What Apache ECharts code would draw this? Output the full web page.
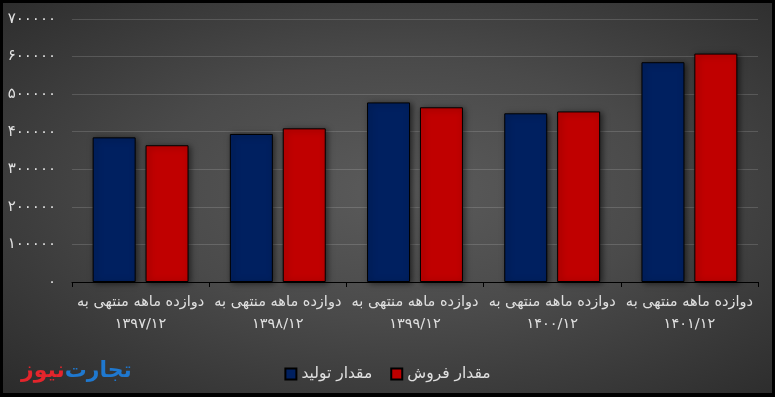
<!DOCTYPE html>
<html>
<head>
<meta charset="utf-8">
<script src="https://cdn.jsdelivr.net/npm/echarts@6/dist/echarts.min.js"></script>
<style>
  html, body { margin: 0; padding: 0; background: #000; }
  #chart {
    width: 775px; height: 397px; box-sizing: border-box;
    border: 3px solid #000; border-bottom-width: 4px;
    background: radial-gradient(ellipse at 52% 48%, #5b5b5b 0%, #4a4a4a 45%, #2b2b2b 100%);
  }
</style>
</head>
<body>
<div id="chart"></div>
<script>
const categories = ['۱۳۹۷/۱۲', '۱۳۹۸/۱۲', '۱۳۹۹/۱۲', '۱۴۰۰/۱۲', '۱۴۰۱/۱۲'];
const periodPrefix = 'دوازده ماهه منتهی به';
const production = [385000, 394000, 478000, 449000, 585000];
const sales = [364000, 409000, 465000, 454000, 608000];
const yTickLabels = ['۰', '۱۰۰۰۰۰', '۲۰۰۰۰۰', '۳۰۰۰۰۰', '۴۰۰۰۰۰', '۵۰۰۰۰۰', '۶۰۰۰۰۰', '۷۰۰۰۰۰'];
const seriesNames = ['مقدار تولید', 'مقدار فروش'];

const font = 'DejaVu Sans';
const chart = echarts.init(document.getElementById('chart'));

// سایه ستون ها
const barShadow = {
  borderColor: '#000',
  borderWidth: 1,
  shadowBlur: 6,
  shadowColor: 'rgba(0,0,0,0.55)',
  shadowOffsetX: 2,
  shadowOffsetY: 1
};

chart.setOption({
  backgroundColor: 'transparent',
  textStyle: { fontFamily: font },
  animation: false,
  grid: { left: 69, right: 14, top: 16, bottom: 111 },
  legend: {
    data: seriesNames,
    top: 358,
    left: 'center',
    icon: 'rect',
    itemWidth: 11,
    itemHeight: 11,
    itemGap: 18,
    textStyle: { color: '#e0e0e0', fontSize: 15.5, fontFamily: font }
  },
  xAxis: {
    type: 'category',
    data: categories,
    axisLine: { lineStyle: { color: '#000', width: 1 } },
    axisTick: { show: true, length: 5, lineStyle: { color: '#000' } },
    axisLabel: {
      color: '#e0e0e0',
      fontSize: 14.5,
      lineHeight: 22,
      margin: 9,
      interval: 0,
      formatter: v => periodPrefix + '\n' + v
    }
  },
  yAxis: {
    type: 'value',
    min: 0,
    max: 700000,
    interval: 100000,
    axisLine: { show: false },
    axisTick: { show: false },
    splitLine: { lineStyle: { color: 'rgba(255,255,255,0.15)', width: 1 } },
    axisLabel: {
      color: '#e0e0e0',
      fontSize: 15,
      margin: 16,
      formatter: v => yTickLabels[Math.round(v / 100000)]
    }
  },
  series: [
    {
      name: seriesNames[0],
      type: 'bar',
      data: production,
      barWidth: 43,
      barGap: '23%',
      itemStyle: Object.assign({ color: '#002060' }, barShadow)
    },
    {
      name: seriesNames[1],
      type: 'bar',
      data: sales,
      barWidth: 43,
      itemStyle: Object.assign({ color: '#c00000' }, barShadow)
    }
  ],
  graphic: [
    {
      type: 'text',
      left: 18,
      top: 357,
      style: {
        text: '{r|نیوز}{b|تجارت}',
        rich: {
          r: { fill: '#e4252c', fontSize: 22, fontWeight: 'bold', fontFamily: font },
          b: { fill: '#1f78cf', fontSize: 22, fontWeight: 'bold', fontFamily: font }
        }
      }
    }
  ]
});
</script>
</body>
</html>
